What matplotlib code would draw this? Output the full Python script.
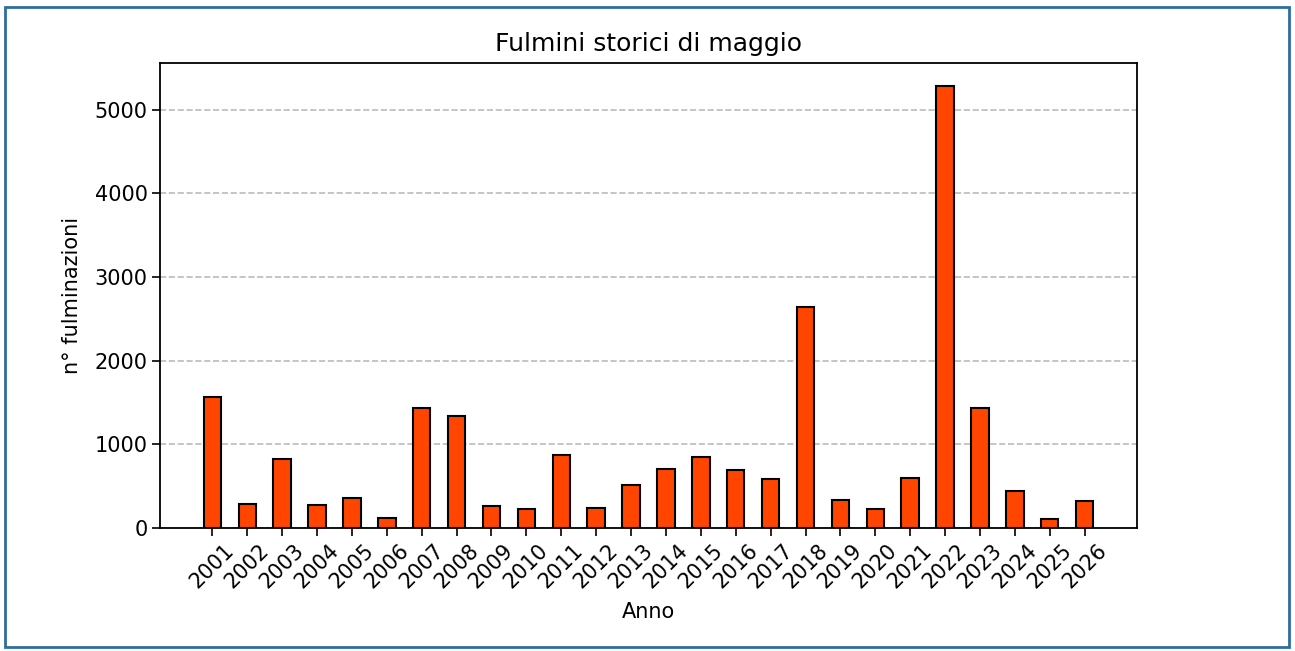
import matplotlib.pyplot as plt
from matplotlib.patches import Rectangle

anni = [str(a) for a in range(2001, 2027)]
fulmini = [1565, 286, 826, 274, 356, 119, 1432, 1340, 262, 226, 870, 238, 512,
           700, 845, 692, 582, 2645, 340, 224, 602, 5280, 1440, 438, 110, 328]

fig = plt.figure(figsize=(12.95, 6.51), dpi=100)
ax = fig.add_axes([160 / 1295, 1 - 528 / 651, 977 / 1295, 465 / 651])

x = list(range(len(anni)))
ax.bar(x, fulmini, width=0.5, color='#ff4500', edgecolor='black', linewidth=1.5, zorder=3)
ax.set_xticks(x)
ax.set_xticklabels(anni, rotation=45, fontsize=15)
ax.tick_params(axis='y', labelsize=15)
ax.tick_params(length=5.5, width=1.2)
ax.set_xlim(-1.5, len(anni) + 0.5)
ax.set_ylim(0, 5560)
ax.grid(axis='y', linestyle='--', color='#bbbbbb', linewidth=1.2, zorder=0)
ax.set_title('Fulmini storici di maggio', fontsize=18, pad=9)
ax.set_xlabel('Anno', fontsize=15, labelpad=7)
ax.set_ylabel('n° fulminazioni', fontsize=15, labelpad=9)
for s in ax.spines.values():
    s.set_linewidth(1.3)

# cornice blu attorno alla figura
fig.patches.append(Rectangle((5 / 1295, 4 / 651), 1284 / 1295, 640 / 651,
                             transform=fig.transFigure, fill=False,
                             edgecolor='#2e6e9e', linewidth=2))

fig.savefig('out.png', dpi=100)
